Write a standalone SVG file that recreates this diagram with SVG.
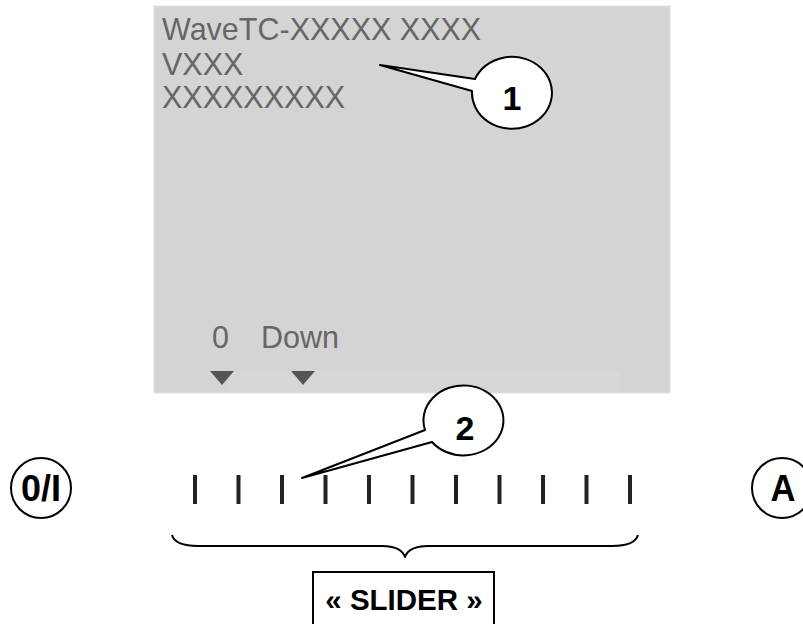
<svg xmlns="http://www.w3.org/2000/svg" width="803" height="624" viewBox="0 0 803 624">
<style>
.scr{font-family:"Liberation Sans",Arial,sans-serif;font-size:30.5px;fill:#666}
.num{font-family:"Liberation Sans",Arial,sans-serif;font-size:34px;font-weight:bold;fill:#000;text-anchor:middle}
.ln{fill:none;stroke:#000;stroke-width:2;stroke-linejoin:round}
.callout{fill:#fff;stroke:#000;stroke-width:2;stroke-linejoin:round}
.tick{stroke:#222;stroke-width:4}
.tri{fill:#555}
</style>
<rect width="803" height="624" fill="#fff"/>
<g id="screen">
  <rect x="154" y="6" width="516" height="387" fill="#d4d4d4" stroke="#e2e2e2" stroke-width="1"/>
  <rect x="228" y="371" width="392" height="21" fill="#d7d7d7"/>
  <text class="scr" x="162" y="40">WaveTC-XXXXX XXXX</text>
  <text class="scr" x="162" y="74.5">VXXX</text>
  <text class="scr" x="162" y="108">XXXXXXXXX</text>
  <text class="scr" x="212" y="348">0</text>
  <text class="scr" x="261" y="348">Down</text>
  <polygon class="tri" points="210,371 234,371 222,385"/>
  <polygon class="tri" points="291,371 315,371 303,385"/>
</g>
<g id="slider-ticks">
  <line class="tick" x1="195" y1="475" x2="195" y2="504"/>
  <line class="tick" x1="238.5" y1="475" x2="238.5" y2="504"/>
  <line class="tick" x1="282" y1="475" x2="282" y2="504"/>
  <line class="tick" x1="325.5" y1="475" x2="325.5" y2="504"/>
  <line class="tick" x1="369" y1="475" x2="369" y2="504"/>
  <line class="tick" x1="412.5" y1="475" x2="412.5" y2="504"/>
  <line class="tick" x1="456" y1="475" x2="456" y2="504"/>
  <line class="tick" x1="499.5" y1="475" x2="499.5" y2="504"/>
  <line class="tick" x1="543" y1="475" x2="543" y2="504"/>
  <line class="tick" x1="586.5" y1="475" x2="586.5" y2="504"/>
  <line class="tick" x1="630" y1="475" x2="630" y2="504"/>
</g>
<g id="btn-onoff">
  <ellipse class="ln" cx="41" cy="488" rx="30" ry="30"/>
  <text x="41" y="501" font-family="'Liberation Sans',Arial,sans-serif" font-size="36" font-weight="bold" text-anchor="middle" textLength="40" lengthAdjust="spacingAndGlyphs">0/I</text>
</g>
<g id="btn-a">
  <ellipse class="ln" cx="782" cy="488" rx="30" ry="30"/>
  <text x="783" y="501" font-family="'Liberation Sans',Arial,sans-serif" font-size="36" font-weight="bold" text-anchor="middle" textLength="25" lengthAdjust="spacingAndGlyphs">A</text>
</g>
<g id="connectors">
  <path class="ln" d="M172,535 Q175,546 198,546 L382,546 Q401,546 405,557 Q409,546 428,546 L612,546 Q635,546 638,535"/>
</g>
<g id="slider-label">
  <rect x="313" y="572" width="181" height="70" fill="#fff" stroke="#000" stroke-width="2"/>
  <text x="404" y="610" font-family="'Liberation Sans',Arial,sans-serif" font-size="29.5" font-weight="bold" text-anchor="middle">« SLIDER »</text>
</g>
<g id="callout-1">
  <path class="callout" d="M475,79 L380,65 L472,91 A40,36 0 1 0 475,79 Z"/>
  <text class="num" x="512" y="110">1</text>
</g>
<g id="callout-2">
  <path class="callout" d="M425,430 L302,478 L432,442 A40,35 0 1 0 425,430 Z"/>
  <text class="num" x="465" y="440">2</text>
</g>
</svg>
